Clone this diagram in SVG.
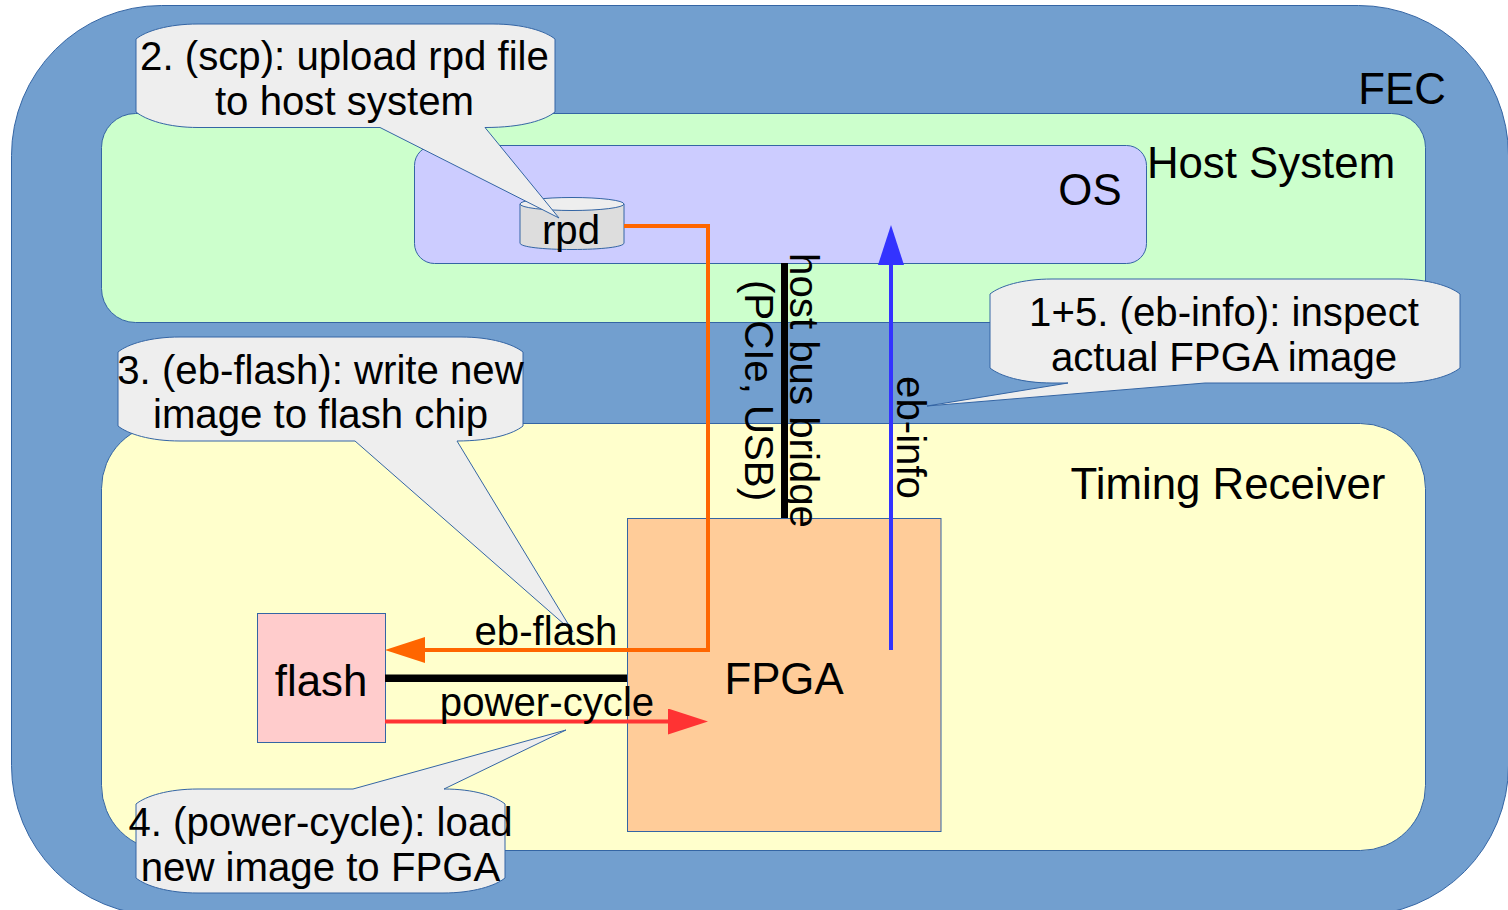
<svg xmlns="http://www.w3.org/2000/svg" width="1508" height="910" viewBox="0 0 1508 910">
<style>
.n{stroke:#3465a4;stroke-width:1}
.c{fill:#eeeeee;stroke:#3465a4;stroke-width:1}
text{font-family:"Liberation Sans",Arial,sans-serif;font-size:40.2px;fill:#000;text-anchor:middle}
.b{font-size:43.800px}
.w{fill:none;stroke-width:4}
</style>
<defs>
<marker id="ao" markerUnits="userSpaceOnUse" markerWidth="40" markerHeight="26" refX="0" refY="13" orient="auto"><path d="M0 0L40 13L0 26z" fill="#ff6600"/></marker>
<marker id="ar" markerUnits="userSpaceOnUse" markerWidth="40" markerHeight="26" refX="0" refY="13" orient="auto"><path d="M0 0L40 13L0 26z" fill="#ff3333"/></marker>
<marker id="ab" markerUnits="userSpaceOnUse" markerWidth="40" markerHeight="26" refX="0" refY="13" orient="auto"><path d="M0 0L40 13L0 26z" fill="#3333ff"/></marker>
</defs>
<g id="fec"><rect class="n" x="11.500" y="5.500" width="1497" height="910" rx="150" ry="150" fill="#729fcf"/><text class="b" x="1402" y="103.500">FEC</text></g>
<g id="host"><rect class="n" x="101.500" y="113.500" width="1324" height="209" rx="34" ry="34" fill="#ccffcc"/><text class="b" x="1271" y="177.500">Host System</text></g>
<g id="os"><rect class="n" x="414.500" y="145.500" width="732" height="118" rx="20" ry="20" fill="#ccccff"/><text class="b" x="1090" y="204.500">OS</text></g>
<g id="receiver"><rect class="n" x="101.500" y="423.500" width="1324" height="427" rx="65" ry="65" fill="#ffffcc"/><text class="b" x="1228" y="498.500">Timing Receiver</text></g>
<g id="fpga"><rect class="n" x="627.500" y="518.500" width="313.500" height="313" fill="#ffcc99"/><text class="b" x="784" y="693.500">FPGA</text></g>
<g id="flash"><rect class="n" x="257.500" y="613.500" width="128" height="129" fill="#ffcccc"/><text class="b" x="321" y="695.500">flash</text></g>
<g id="rpd"><path class="n" d="M520 204V243C520 247 543 249.500 572 249.500S624 247 624 243V204z" fill="#dddddd"/><ellipse class="n" cx="572" cy="204" rx="52" ry="6.500" fill="#eeeeee"/></g>
<g id="connectors">
<path d="M781 263H788V518H781z" fill="#000"/>
<path d="M385 674.500H627V682H385z" fill="#000"/>
<path class="w" d="M624 226H708V650H425" stroke="#ff6600" marker-end="url(#ao)"/>
<path class="w" d="M385 721.500H668" stroke="#ff3333" marker-end="url(#ar)"/>
<path class="w" d="M891 650V265" stroke="#3333ff" marker-end="url(#ab)"/>
</g>
<g id="callout2"><path class="c" d="M136 39C146 31 168 24 198 24H493C523 24 545 31 555 39V112C545 120 523 127.500 485 127.500L559 218L380 127.500H198C168 127.500 146 120 136 112z"/><text x="344.500" y="69.500">2. (scp): upload rpd file</text><text x="344.500" y="114.500">to host system</text></g>
<g id="callout3"><path class="c" d="M118 352C128 344 150 337 180 337H461C491 337 513 344 523 352V426C513 434 491 441 457 441L573 632L355 441H180C150 441 128 434 118 426z"/><text x="320.500" y="383.500">3. (eb-flash): write new</text><text x="320.500" y="427.500">image to flash chip</text></g>
<g id="callout15"><path class="c" d="M990 294C1000 286 1022 279 1052 279H1398C1428 279 1450 286 1460 294V368C1450 376 1428 383 1398 383H1205L927 406L1068 383H1052C1022 383 1000 376 990 368z"/><text x="1224" y="326">1+5. (eb-info): inspect</text><text x="1224" y="370.500">actual FPGA image</text></g>
<g id="callout4"><path class="c" d="M136 804C146 796 168 789 198 789H353L566 730L444 789C474 789 495 796 505 804V878C495 886 473 893 443 893H198C168 893 146 886 136 878z"/><text x="320.500" y="835.500">4. (power-cycle): load</text><text x="320.500" y="880.500">new image to FPGA</text></g>
<g id="labels">
<text x="571" y="243.500">rpd</text>
<text x="546" y="644.500">eb-flash</text>
<text x="547" y="716">power-cycle</text>
<text transform="translate(789.500 390.500) rotate(90)">host bus bridge</text>
<text transform="translate(745 390.500) rotate(90)">(PCIe, USB)</text>
<text transform="translate(896.500 437.500) rotate(90)">eb-info</text>
</g>
</svg>
